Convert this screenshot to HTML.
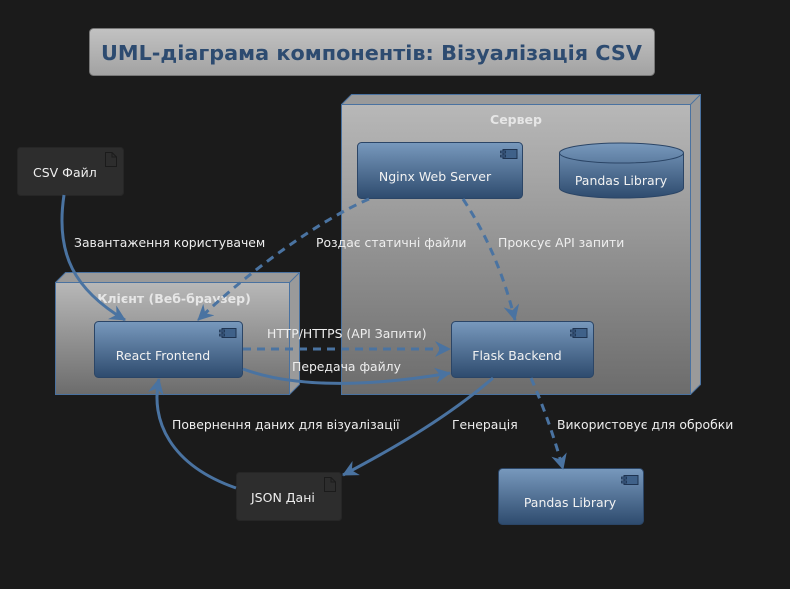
<!DOCTYPE html>
<html><head><meta charset="utf-8"><style>
html,body{margin:0;padding:0;background:#1b1b1b;}
svg{display:block;font-family:"DejaVu Sans","Liberation Sans",sans-serif;}
</style></head><body>
<svg width="790" height="589" viewBox="0 0 790 589" xmlns="http://www.w3.org/2000/svg">
<defs>
<linearGradient id="tg" x1="0" y1="0" x2="0" y2="1"><stop offset="0" stop-color="#c2c2c2"/><stop offset="1" stop-color="#a2a2a2"/></linearGradient>
<linearGradient id="ng" x1="0" y1="0" x2="0" y2="1"><stop offset="0" stop-color="#b8b8b8"/><stop offset="1" stop-color="#6c6c6c"/></linearGradient>
<linearGradient id="cg" x1="0" y1="0" x2="0" y2="1"><stop offset="0" stop-color="#7899bd"/><stop offset="1" stop-color="#2e4b6e"/></linearGradient>
<marker id="ah" markerWidth="18" markerHeight="16" refX="15" refY="8" orient="auto" markerUnits="userSpaceOnUse"><path d="M0,0 L16,8 L0,16 L5,8 Z" fill="#4a73a1"/></marker>
<symbol id="ci" viewBox="0 0 18 10"><rect x="3" y="0.5" width="14" height="9" fill="#3f6189" stroke="#1e3350" stroke-width="1"/><rect x="0.5" y="2" width="5" height="2" fill="#3f6189" stroke="#1e3350" stroke-width="0.8"/><rect x="0.5" y="6" width="5" height="2" fill="#3f6189" stroke="#1e3350" stroke-width="0.8"/></symbol>
</defs>
<rect x="89.5" y="28.5" width="565" height="47" rx="4" fill="url(#tg)" stroke="#777" stroke-width="1"/>
<text x="101" y="60" font-size="20" font-weight="bold" fill="#2d4b70" textLength="541" lengthAdjust="spacingAndGlyphs">UML-діаграма компонентів: Візуалізація CSV</text>

<!-- Server node -->
<path d="M341.5,104.5 L351.5,94.5 L700.5,94.5 L700.5,384.5 L690.5,394.5 L341.5,394.5 Z" fill="#9a9a9a" stroke="#4a72a0"/>
<rect x="341.5" y="104.5" width="349" height="290" fill="url(#ng)" stroke="#4a72a0"/>
<path d="M690.5,104.5 L700.5,94.5" stroke="#4a72a0"/>
<text x="516" y="124" font-size="12.5" font-weight="bold" fill="#e6e6e6" text-anchor="middle">Сервер</text>

<!-- Client node -->
<path d="M55.5,282.5 L65.5,272.5 L299.5,272.5 L299.5,384.5 L289.5,394.5 L55.5,394.5 Z" fill="#9a9a9a" stroke="#4a72a0"/>
<rect x="55.5" y="282.5" width="234" height="112" fill="url(#ng)" stroke="#4a72a0"/>
<path d="M289.5,282.5 L299.5,272.5" stroke="#4a72a0"/>
<text x="174" y="303" font-size="12.5" font-weight="bold" fill="#e6e6e6" text-anchor="middle">Клієнт (Веб-браузер)</text>

<!-- Components -->
<rect x="357.5" y="142.5" width="165" height="56" rx="4" fill="url(#cg)" stroke="#2b4566"/>
<use href="#ci" x="500" y="149" width="18" height="10"/>
<text x="435" y="181" font-size="12.5" fill="#f2f2f2" text-anchor="middle">Nginx Web Server</text>

<path d="M559.5,153 L559.5,188 A62,10 0 0 0 683.5,188 L683.5,153 A62,10 0 0 0 559.5,153 A62,10 0 0 0 683.5,153" fill="url(#cg)" stroke="#2b4566"/>
<text x="621" y="185" font-size="12.5" fill="#f2f2f2" text-anchor="middle">Pandas Library</text>

<rect x="94.5" y="321.5" width="148" height="56" rx="4" fill="url(#cg)" stroke="#2b4566"/>
<use href="#ci" x="219" y="328" width="18" height="10"/>
<text x="163" y="360" font-size="12.5" fill="#f2f2f2" text-anchor="middle">React Frontend</text>

<rect x="451.5" y="321.5" width="142" height="56" rx="4" fill="url(#cg)" stroke="#2b4566"/>
<use href="#ci" x="570" y="328" width="18" height="10"/>
<text x="517" y="360" font-size="12.5" fill="#f2f2f2" text-anchor="middle">Flask Backend</text>

<rect x="498.5" y="468.5" width="145" height="56" rx="4" fill="url(#cg)" stroke="#2b4566"/>
<use href="#ci" x="621" y="475" width="18" height="10"/>
<text x="570" y="507" font-size="12.5" fill="#f2f2f2" text-anchor="middle">Pandas Library</text>

<!-- Artifacts -->
<rect x="17.5" y="147.5" width="106" height="48" rx="3" fill="#2d2d2d" stroke="#262626"/>
<path d="M105.5,152.5 L112,152.5 L116.5,157 L116.5,166.5 L105.5,166.5 Z M112,152.5 L112,157 L116.5,157" fill="none" stroke="#1b1b1b"/>
<text x="33" y="177" font-size="12.5" fill="#eeeeee">CSV Файл</text>

<rect x="236.5" y="472.5" width="105" height="48" rx="3" fill="#2d2d2d" stroke="#262626"/>
<path d="M324.5,477.5 L331,477.5 L335.5,482 L335.5,491.5 L324.5,491.5 Z M331,477.5 L331,482 L335.5,482" fill="none" stroke="#1b1b1b"/>
<text x="251" y="502" font-size="12.5" fill="#eeeeee">JSON Дані</text>

<!-- Edges -->
<g fill="none" stroke="#4a73a1" stroke-width="3">
<path d="M64,195 C55,255 75,290 125,320" marker-end="url(#ah)"/>
<path d="M369,199 C320,220 250,270 198,320" stroke-dasharray="8,6" marker-end="url(#ah)"/>
<path d="M463,199 C490,240 505,280 515,320" stroke-dasharray="8,6" marker-end="url(#ah)"/>
<path d="M243,349 L450,349" stroke-dasharray="8,6" marker-end="url(#ah)"/>
<path d="M243,369 C300,390 380,385 450,373" marker-end="url(#ah)"/>
<path d="M493,378 C450,415 400,445 343,475" marker-end="url(#ah)"/>
<path d="M531,378 C545,410 555,440 563,469" stroke-dasharray="8,6" marker-end="url(#ah)"/>
<path d="M236,488 C170,465 150,420 159,379" marker-end="url(#ah)"/>
</g>
<g font-size="12.4" fill="#eeeeee">
<text x="74" y="247">Завантаження користувачем</text>
<text x="316" y="247">Роздає статичні файли</text>
<text x="498" y="247">Проксує API запити</text>
<text x="267" y="338">HTTP/HTTPS (API Запити)</text>
<text x="292" y="371">Передача файлу</text>
<text x="172" y="429">Повернення даних для візуалізації</text>
<text x="452" y="429">Генерація</text>
<text x="557" y="429">Використовує для обробки</text>
</g>
</svg>
</body></html>
